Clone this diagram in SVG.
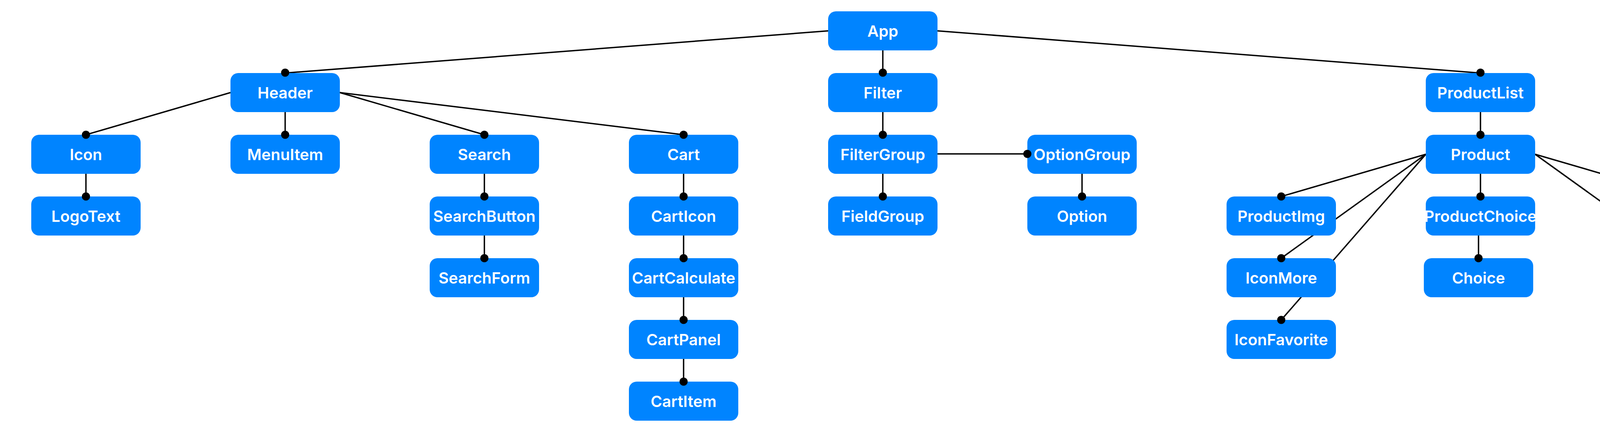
<svg xmlns="http://www.w3.org/2000/svg" width="4521" height="1106" viewBox="0 0 4521 1106">
<defs>
<style>
.n rect{fill:#0084ff;}
.n text{fill:#ffffff;font-family:Inter,"Noto Sans","Liberation Sans",sans-serif;font-weight:600;font-size:40px;text-anchor:middle;}
#connectors line{stroke:#000;stroke-width:3.5;fill:none;}
#ends circle{fill:#000;}
</style>
<rect id="box" x="-140" y="0" width="280" height="100" rx="20" ry="20"/>
</defs>
<rect x="0" y="0" width="4521" height="1106" fill="#ffffff"/>
<g id="connectors">
<line x1="2120" y1="79" x2="730" y2="187"/>
<line x1="2260" y1="129" x2="2260" y2="187"/>
<line x1="2400" y1="79" x2="3790" y2="187"/>
<line x1="590" y1="237" x2="220" y2="345"/>
<line x1="730" y1="287" x2="730" y2="345"/>
<line x1="870" y1="237" x2="1240" y2="345"/>
<line x1="870" y1="237" x2="1750" y2="345"/>
<line x1="220" y1="445" x2="220" y2="503"/>
<line x1="1240" y1="445" x2="1240" y2="503"/>
<line x1="1240" y1="603" x2="1240" y2="661"/>
<line x1="1750" y1="445" x2="1750" y2="503"/>
<line x1="1750" y1="603" x2="1750" y2="661"/>
<line x1="1750" y1="761" x2="1750" y2="819"/>
<line x1="1750" y1="919" x2="1750" y2="977"/>
<line x1="2260" y1="287" x2="2260" y2="345"/>
<line x1="2260" y1="445" x2="2260" y2="503"/>
<line x1="2400" y1="394" x2="2630" y2="394"/>
<line x1="2770" y1="445" x2="2770" y2="503"/>
<line x1="3790" y1="287" x2="3790" y2="345"/>
<line x1="3650" y1="395" x2="3280" y2="503"/>
<line x1="3650" y1="395" x2="3280" y2="661"/>
<line x1="3650" y1="395" x2="3280" y2="819"/>
<line x1="3790" y1="445" x2="3790" y2="503"/>
<line x1="3785" y1="603" x2="3785" y2="661"/>
<line x1="3930" y1="395" x2="4300" y2="503"/>
<line x1="3930" y1="395" x2="4300" y2="661"/>
<line x1="4300" y1="761" x2="4300" y2="819"/>
</g>
<g id="n-App" class="n"><rect x="2120" y="29" width="280" height="100" rx="20"/><text x="2260" y="93.5">App</text></g>
<g id="n-Header" class="n"><rect x="590" y="187" width="280" height="100" rx="20"/><text x="730" y="251.5">Header</text></g>
<g id="n-Filter" class="n"><rect x="2120" y="187" width="280" height="100" rx="20"/><text x="2260" y="251.5">Filter</text></g>
<g id="n-ProductList" class="n"><rect x="3650" y="187" width="280" height="100" rx="20"/><text x="3790" y="251.5">ProductList</text></g>
<g id="n-Icon" class="n"><rect x="80" y="345" width="280" height="100" rx="20"/><text x="220" y="409.5">Icon</text></g>
<g id="n-MenuItem" class="n"><rect x="590" y="345" width="280" height="100" rx="20"/><text x="730" y="409.5">MenuItem</text></g>
<g id="n-Search" class="n"><rect x="1100" y="345" width="280" height="100" rx="20"/><text x="1240" y="409.5">Search</text></g>
<g id="n-Cart" class="n"><rect x="1610" y="345" width="280" height="100" rx="20"/><text x="1750" y="409.5">Cart</text></g>
<g id="n-FilterGroup" class="n"><rect x="2120" y="345" width="280" height="100" rx="20"/><text x="2260" y="409.5">FilterGroup</text></g>
<g id="n-OptionGroup" class="n"><rect x="2630" y="345" width="280" height="100" rx="20"/><text x="2770" y="409.5">OptionGroup</text></g>
<g id="n-Product" class="n"><rect x="3650" y="345" width="280" height="100" rx="20"/><text x="3790" y="409.5">Product</text></g>
<g id="n-LogoText" class="n"><rect x="80" y="503" width="280" height="100" rx="20"/><text x="220" y="567.5">LogoText</text></g>
<g id="n-SearchButton" class="n"><rect x="1100" y="503" width="280" height="100" rx="20"/><text x="1240" y="567.5">SearchButton</text></g>
<g id="n-CartIcon" class="n"><rect x="1610" y="503" width="280" height="100" rx="20"/><text x="1750" y="567.5">CartIcon</text></g>
<g id="n-FieldGroup" class="n"><rect x="2120" y="503" width="280" height="100" rx="20"/><text x="2260" y="567.5">FieldGroup</text></g>
<g id="n-Option" class="n"><rect x="2630" y="503" width="280" height="100" rx="20"/><text x="2770" y="567.5">Option</text></g>
<g id="n-ProductImg" class="n"><rect x="3140" y="503" width="280" height="100" rx="20"/><text x="3280" y="567.5">ProductImg</text></g>
<g id="n-ProductChoice" class="n"><rect x="3650" y="503" width="280" height="100" rx="20"/><text x="3790" y="567.5">ProductChoice</text></g>
<g id="n-ProductButton" class="n"><rect x="4160" y="503" width="280" height="100" rx="20"/><text x="4300" y="567.5">ProductButton</text></g>
<g id="n-SearchForm" class="n"><rect x="1100" y="661" width="280" height="100" rx="20"/><text x="1240" y="725.5">SearchForm</text></g>
<g id="n-CartCalculate" class="n"><rect x="1610" y="661" width="280" height="100" rx="20"/><text x="1750" y="725.5">CartCalculate</text></g>
<g id="n-IconMore" class="n"><rect x="3140" y="661" width="280" height="100" rx="20"/><text x="3280" y="725.5">IconMore</text></g>
<g id="n-Choice" class="n"><rect x="3645" y="661" width="280" height="100" rx="20"/><text x="3785" y="725.5">Choice</text></g>
<g id="n-Popup" class="n"><rect x="4160" y="661" width="280" height="100" rx="20"/><text x="4300" y="725.5">Popup</text></g>
<g id="n-CartPanel" class="n"><rect x="1610" y="819" width="280" height="100" rx="20"/><text x="1750" y="883.5">CartPanel</text></g>
<g id="n-IconFavorite" class="n"><rect x="3140" y="819" width="280" height="100" rx="20"/><text x="3280" y="883.5">IconFavorite</text></g>
<g id="n-PopupInfo" class="n"><rect x="4160" y="819" width="280" height="100" rx="20"/><text x="4300" y="883.5">PopupInfo</text></g>
<g id="n-CartItem" class="n"><rect x="1610" y="977" width="280" height="100" rx="20"/><text x="1750" y="1041.5">CartItem</text></g>
<g id="ends">
<circle cx="730" cy="186" r="10.5"/>
<circle cx="2260" cy="186" r="10.5"/>
<circle cx="3790" cy="186" r="10.5"/>
<circle cx="220" cy="345" r="10.5"/>
<circle cx="730" cy="345" r="10.5"/>
<circle cx="1240" cy="345" r="10.5"/>
<circle cx="1750" cy="345" r="10.5"/>
<circle cx="2260" cy="345" r="10.5"/>
<circle cx="2630" cy="394" r="10.5"/>
<circle cx="3790" cy="345" r="10.5"/>
<circle cx="220" cy="503" r="10.5"/>
<circle cx="1240" cy="503" r="10.5"/>
<circle cx="1750" cy="503" r="10.5"/>
<circle cx="2260" cy="503" r="10.5"/>
<circle cx="2770" cy="503" r="10.5"/>
<circle cx="3280" cy="503" r="10.5"/>
<circle cx="3790" cy="503" r="10.5"/>
<circle cx="4300" cy="503" r="10.5"/>
<circle cx="1240" cy="661" r="10.5"/>
<circle cx="1750" cy="661" r="10.5"/>
<circle cx="3280" cy="661" r="10.5"/>
<circle cx="3785" cy="661" r="10.5"/>
<circle cx="4300" cy="661" r="10.5"/>
<circle cx="1750" cy="819" r="10.5"/>
<circle cx="3280" cy="819" r="10.5"/>
<circle cx="4300" cy="819" r="10.5"/>
<circle cx="1750" cy="977" r="10.5"/>
</g>
</svg>
